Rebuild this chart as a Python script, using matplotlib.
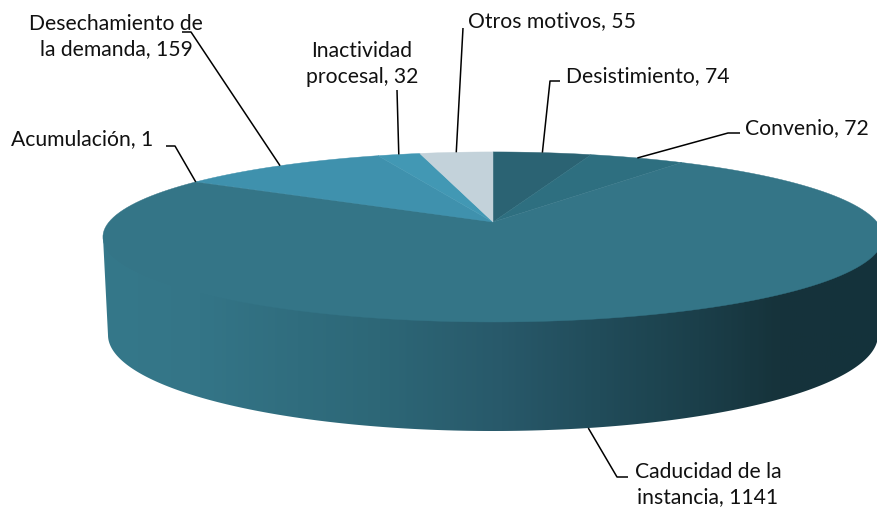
#!/usr/bin/env python3
"""3D style pie chart of case closure reasons, drawn on a pixel sized axes."""
import numpy as np
import matplotlib
matplotlib.use("Agg")
import matplotlib.pyplot as plt
from matplotlib.colors import LinearSegmentedColormap
from matplotlib.patches import Polygon

plt.rcParams["font.family"] = ["Lato", "DejaVu Sans"]

# clockwise from 12 o'clock
labels = ["Desistimiento", "Convenio", "Caducidad de la\ninstancia", "Acumulación",
          "Desechamiento de\nla demanda", "Inactividad\nprocesal", "Otros motivos"]
values = [74, 72, 1141, 1, 159, 32, 55]
colors = ["#2b6373", "#2e6f80", "#347587", "#347587", "#3f91ad", "#4298b4", "#c3d2da"]

W, H = 877, 511
CX, CY = 493, 222      # apex of the slices on screen
TILT = 0.176           # perspective of the top disc
RX, RY = 384, 82.4
DROP_Y, DROP_RX, DROP_RY = 335, 385, 96   # bottom rim of the disc


def project(deg):
    """Map clockwise pie angles to screen pixels on the top disc."""
    t = np.radians(deg)
    w = 1 + TILT * np.cos(t)
    return CX + RX * np.sin(t) / w, CY - RY * np.cos(t) / w


fig = plt.figure(figsize=(W / 100, H / 100), dpi=100)
ax = fig.add_axes([0, 0, 1, 1])
ax.set_xlim(0, W)
ax.set_ylim(H, 0)
ax.axis("off")

# side wall with a left to right shade
side_cmap = LinearSegmentedColormap.from_list(
    "side",
    [(0.0, "#35788a"), (0.124, "#347587"), (0.25, "#306d7e"), (0.355, "#2d6777"),
     (0.51, "#28596a"), (0.637, "#214c5a"), (0.765, "#1b3f4a"), (0.868, "#16333b"),
     (1.0, "#14323b")],
)
rim = np.radians(np.linspace(180, 0, 200))
side_xy = np.column_stack([CX + DROP_RX * np.cos(rim), DROP_Y + DROP_RY * np.sin(rim)])
side_xy = np.vstack([[CX - 390, 237], side_xy, [CX + 390, 237]])
side = Polygon(side_xy, closed=True, facecolor="none", edgecolor="none")
ax.add_patch(side)
img = ax.imshow(np.linspace(0, 1, 400)[None, :], cmap=side_cmap, extent=[103, 883, 440, 230],
                aspect="auto", zorder=1)
img.set_clip_path(side)
ax.set_xlim(0, W)
ax.set_ylim(H, 0)

# top surface
edges = np.cumsum([0] + values) / sum(values) * 360
for i in range(len(values)):
    a = np.linspace(edges[i], edges[i + 1], 150)
    px, py = project(a)
    ax.fill(np.r_[CX, px], np.r_[CY, py], color=colors[i], lw=0.3, zorder=2)

# leader lines start on the rim at each slice's middle, the rest is label layout
mids = (edges[:-1] + edges[1:]) / 2
elbows = [
    [(550, 81), (560, 81)],
    [(728, 133), (740, 133)],
    [(617, 477), (628, 477)],
    [(175, 146), (166, 146)],
    [(191, 32), (182, 32)],
    [(397, 90)],
    [(463, 28)],
]
text_pos = [(566, 76, "left"), (745, 128, "left"), (708, 485, "center"), (11, 139, "left"),
            (116, 37, "center"), (362, 64, "center"), (468, 21, "left")]

for i, mid in enumerate(mids):
    x0, y0 = project(mid)
    if labels[i].startswith("Caducidad"):
        # this one points at the bottom rim, not the top disc
        t = np.arcsin((x0 - CX) / DROP_RX)
        y0 = DROP_Y + DROP_RY * np.cos(t)
    pts = [(x0, y0)] + elbows[i]
    ax.plot(*zip(*pts), color="black", lw=1.1, zorder=3, solid_capstyle="butt")
    tx, ty, ha = text_pos[i]
    ax.text(tx, ty, f"{labels[i]}, {values[i]}", ha=ha, va="center", fontsize=15.2,
            color="#111111", linespacing=1.32, zorder=4)

fig.savefig("out.png", dpi=100)
